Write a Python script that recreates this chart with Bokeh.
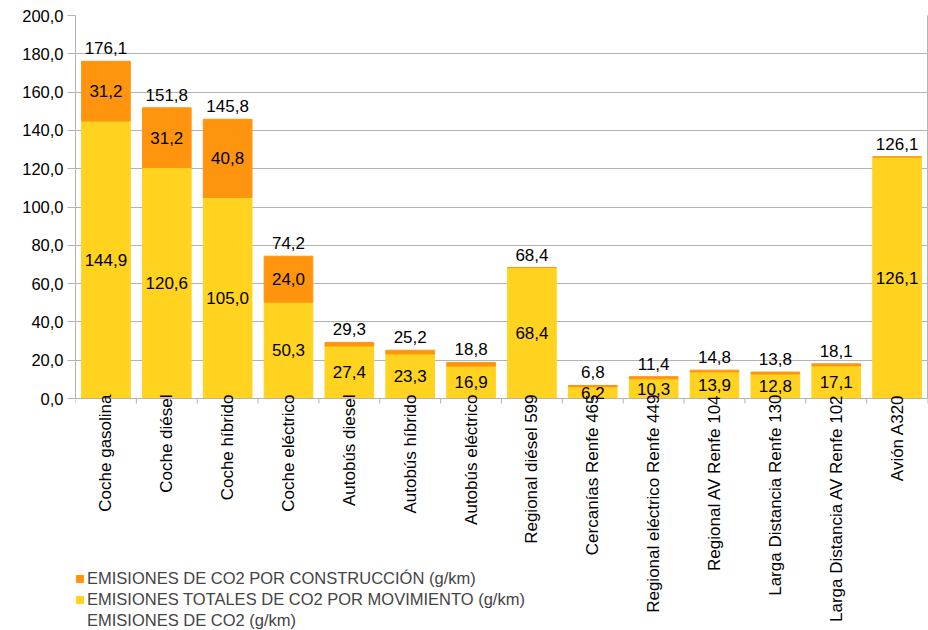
import math
from bokeh.plotting import figure
from bokeh.models import (ColumnDataSource, Range1d, FixedTicker, CustomJSTickFormatter,
                          LabelSet, Legend, LegendItem, LinearAxis, Span)
from bokeh.core.properties import value
from bokeh.embed import file_html
from bokeh.resources import INLINE

categories = ["Coche gasolina", "Coche diésel", "Coche híbrido", "Coche eléctrico",
              "Autobús diesel", "Autobús híbrido", "Autobús eléctrico",
              "Regional diésel 599", "Cercanías Renfe 465", "Regional eléctrico Renfe 449",
              "Regional AV Renfe 104", "Larga Distancia Renfe 130",
              "Larga Distancia AV Renfe 102", "Avión A320"]
movimiento = [144.9, 120.6, 105.0, 50.3, 27.4, 23.3, 16.9, 68.4, 6.2, 10.3, 13.9, 12.8, 17.1, 126.1]
construccion = [31.2, 31.2, 40.8, 24.0, 1.9, 1.9, 1.9, 0.0, 0.6, 1.1, 0.9, 1.0, 1.0, 0.1]
totales = [176.1, 151.8, 145.8, 74.2, 29.3, 25.2, 18.8, 68.4, 6.8, 11.4, 14.8, 13.8, 18.1, 126.1]
y_ticks = [0, 20, 40, 60, 80, 100, 120, 140, 160, 180, 200]

ORANGE = "#ff950e"
YELLOW = "#ffd320"
GRID = "#b3b3b3"
FONT = "Liberation Sans"

W, H = 928, 630
TOP, LEFT = 15, 75
AXIS_PX = 383  # pixel height of the 0..200 span
Y_MAX = y_ticks[-1]
units_per_px = Y_MAX / AXIS_PX
y_min = Y_MAX - (H - TOP) * units_per_px   # frame extends to the canvas bottom


def fmt(v):
    return f"{v:.1f}".replace(".", ",")


n = len(categories)
xs = [i + 0.5 for i in range(n)]

src = ColumnDataSource(dict(
    x=xs, cat=categories, mov=movimiento, con=construccion, tot=totales,
    mov_y=[m / 2 for m in movimiento],
    mov_t=[fmt(m) for m in movimiento],
    tot_t=[fmt(t) for t in totales],
    zero=[0] * n,
))
con_idx = [i for i, c in enumerate(construccion) if c >= 5]
con_src = ColumnDataSource(dict(
    x=[xs[i] for i in con_idx],
    y=[movimiento[i] + construccion[i] / 2 for i in con_idx],
    t=[fmt(construccion[i]) for i in con_idx],
))
bounds = list(range(n + 1))
tick_src = ColumnDataSource(dict(x=bounds, y0=[0] * len(bounds),
                                 y1=[-5 * units_per_px] * len(bounds)))

p = figure(width=W, height=H, output_backend="svg", toolbar_location=None,
           x_range=Range1d(0, n), y_range=Range1d(y_min, Y_MAX),
           x_axis_location=None,
           min_border_left=LEFT, min_border_right=1, min_border_top=TOP, min_border_bottom=0)

rs = p.vbar_stack(["mov", "con"], x="x", width=0.8, color=[YELLOW, ORANGE], source=src)
ghost = p.scatter(x="x", y="tot", source=src, size=0, alpha=0)

# x axis line and outward ticks at category boundaries
p.add_layout(Span(location=0, dimension="width", line_color=GRID, line_width=1))
p.segment(x0="x", y0="y0", x1="x", y1="y1", source=tick_src, line_color=GRID, line_width=1)

# y axis
yax = p.yaxis[0]
yax.bounds = (0, Y_MAX)
yax.ticker = FixedTicker(ticks=y_ticks)
yax.formatter = CustomJSTickFormatter(code="return tick.toFixed(1).replace('.', ',');")
yax.major_tick_out = 8
yax.major_tick_in = 0
yax.minor_tick_line_color = None
yax.axis_line_color = GRID
yax.major_tick_line_color = GRID
yax.major_label_text_font = FONT
yax.major_label_text_font_size = "16.5px"
yax.major_label_text_color = "black"
yax.major_label_standoff = 4

# right border of the plot area
rax = LinearAxis(bounds=(0, Y_MAX), ticker=FixedTicker(ticks=[]), axis_line_color=GRID,
                 major_tick_line_color=None, minor_tick_line_color=None,
                 major_label_text_font_size="0px", major_label_standoff=0)
p.add_layout(rax, "right")

p.xgrid.grid_line_color = None
p.ygrid.grid_line_color = GRID
p.ygrid.ticker = FixedTicker(ticks=y_ticks)
p.outline_line_color = None
p.background_fill_color = "white"
p.border_fill_color = "white"

# value labels
common = dict(text_font=value(FONT), text_font_size="17px", text_color="black", text_align="center")
p.add_layout(LabelSet(x="x", y="mov_y", text="mov_t", source=src, text_baseline="middle", **common))
p.add_layout(LabelSet(x="x", y="y", text="t", source=con_src, text_baseline="middle", **common))
p.add_layout(LabelSet(x="x", y="tot", text="tot_t", source=src, text_baseline="bottom",
                      y_offset=7, **common))

# category labels (rotated)
p.add_layout(LabelSet(x="x", y="zero", text="cat", source=src, angle=math.pi / 2,
                      text_align="right", text_baseline="middle", y_offset=4,
                      text_font=value(FONT), text_font_size="17px", text_color="black"))

legend = Legend(items=[
    LegendItem(label="EMISIONES DE CO2 POR CONSTRUCCIÓN (g/km)", renderers=[rs[1]]),
    LegendItem(label="EMISIONES TOTALES DE CO2 POR MOVIMIENTO (g/km)", renderers=[rs[0]]),
    LegendItem(label="EMISIONES DE CO2 (g/km)", renderers=[ghost]),
], location=(0, 0), orientation="vertical")
legend.glyph_width = 9
legend.glyph_height = 9
legend.label_height = 19
legend.spacing = 2
legend.padding = 0
legend.margin = 0
legend.label_standoff = 3
legend.label_text_font = FONT
legend.label_text_font_size = "16.5px"
legend.border_line_color = None
legend.background_fill_alpha = 0
p.add_layout(legend, "center")

open("out.html", "w").write(file_html(p, INLINE))
